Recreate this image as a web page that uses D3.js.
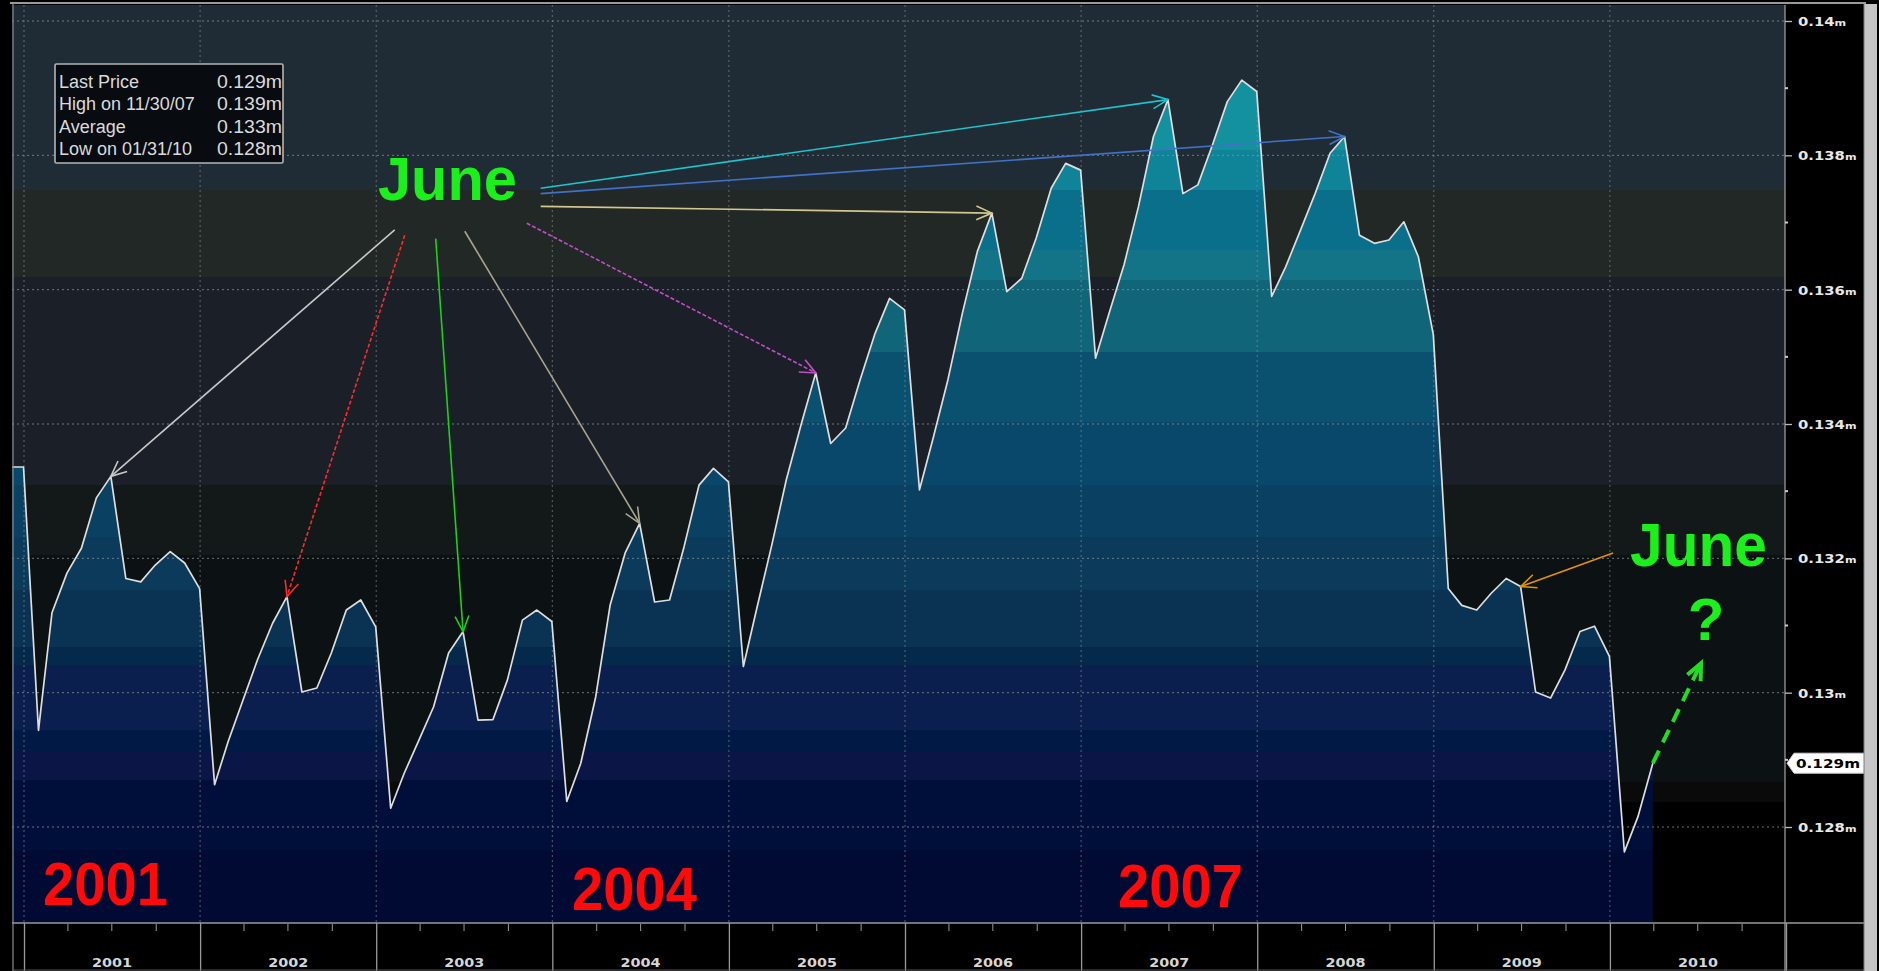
<!DOCTYPE html>
<html><head><meta charset="utf-8">
<script src="https://cdn.jsdelivr.net/npm/d3@7/dist/d3.min.js"></script>
<style>html,body{margin:0;padding:0;background:#000;overflow:hidden}svg{display:block}</style>
</head><body><svg id="c" width="1879" height="971"></svg>
<script>
// ---------- DATA (month-end prices, millions) ----------
const price2000 = [0.13336, 0.13336];                       // Nov, Dec
const price2001 = [0.12944, 0.13119, 0.13178, 0.13215, 0.13290, 0.13322, 0.13170, 0.13165, 0.13190, 0.13210, 0.13193, 0.13155];
const price2002 = [0.12863, 0.12927, 0.12989, 0.13049, 0.13103, 0.13143, 0.13001, 0.13007, 0.13059, 0.13123, 0.13138, 0.13098];
const price2003 = [0.12828, 0.12880, 0.12930, 0.12979, 0.13059, 0.13091, 0.12959, 0.12960, 0.13019, 0.13108, 0.13123, 0.13106];
const price2004 = [0.12838, 0.12895, 0.12994, 0.13131, 0.13208, 0.13252, 0.13135, 0.13138, 0.13217, 0.13309, 0.13334, 0.13314];
const price2005 = [0.13039, 0.13126, 0.13220, 0.13317, 0.13400, 0.13476, 0.13371, 0.13394, 0.13466, 0.13535, 0.13587, 0.13570];
const price2006 = [0.13302, 0.13378, 0.13466, 0.13565, 0.13657, 0.13714, 0.13597, 0.13617, 0.13677, 0.13751, 0.13788, 0.13778];
const price2007 = [0.13498, 0.13565, 0.13637, 0.13724, 0.13828, 0.13883, 0.13743, 0.13756, 0.13815, 0.13880, 0.13912, 0.13895];
const price2008 = [0.13590, 0.13634, 0.13689, 0.13743, 0.13803, 0.13828, 0.13681, 0.13669, 0.13674, 0.13701, 0.13649, 0.13533];
const price2009 = [0.13155, 0.13130, 0.13123, 0.13148, 0.13170, 0.13158, 0.13001, 0.12992, 0.13034, 0.13091, 0.13099, 0.13054];
const price2010 = [0.12763, 0.12815, 0.12895];              // Jan, Feb, Mar

const years = [2001, 2002, 2003, 2004, 2005, 2006, 2007, 2008, 2009, 2010];
const yearLabels = ["2001","2002","2003","2004","2005","2006","2007","2008","2009","2010"];
const yTicks = [0.128, 0.13, 0.132, 0.134, 0.136, 0.138, 0.14];
const yTickLabels = ["0.128", "0.13", "0.132", "0.134", "0.136", "0.138", "0.14"];
const statLabels = ["Last Price", "High on 11/30/07", "Average", "Low on 01/31/10"];
const statValues = ["0.129m", "0.139m", "0.133m", "0.128m"];
const lastPriceLabel = "0.129m";
const juneYears = [2001, 2002, 2003, 2004, 2005, 2006, 2007, 2008, 2009];
// arrow tails (decimal year, value)
const arrowTailT = [2003.105, 2003.162, 2003.338, 2003.503, 2003.855, 2003.934, 2003.934, 2003.934, 2010.018];
const arrowTailV = [0.13689, 0.13681, 0.13676, 0.13687, 0.13699, 0.13724, 0.13751, 0.13743, 0.13208];
const arrowColors = ["#c8c8c8", "#ff2a2a", "#1ad21a", "#a8a68e", "#c050c8", "#d2c78c", "#1ec3cb", "#4272c8", "#e0920c"];
const arrowDash = [null, "4,2", null, null, "4,2", null, null, null, null];
const forecastT = 2010.518, forecastV = 0.13044;

// ---------- SETUP ----------
const values = [].concat(price2000, price2001, price2002, price2003, price2004, price2005,
                         price2006, price2007, price2008, price2009, price2010);
const data = values.map((v, i) => ({date: new Date(2000, 11 + i, 0), value: v}));
const yr = t => { const y0 = Math.floor(t); const a = new Date(y0,0,1), b = new Date(y0+1,0,1);
                  return new Date(+a + (t - y0) * (b - a)); };

const P = {left: 12, right: 1785, top: 5, bottom: 923};
const x = d3.scaleTime().domain([new Date(2001,0,1), new Date(2011,0,1)]).range([24, 1786]);
const y = d3.scaleLinear().domain([0.128, 0.14]).range([827, 21]);

const svg = d3.select("#c");
svg.append("rect").attr("width",1879).attr("height",971).attr("fill","#000");
const defs = svg.append("defs");
defs.append("clipPath").attr("id","clip").append("rect")
  .attr("x",P.left).attr("y",P.top).attr("width",P.right-P.left).attr("height",P.bottom-P.top);

// background bands above the mountain
const bgBands = [[5,190,"#202c35"],[190,277,"#222826"],[277,485,"#1b1f28"],[485,555,"#131918"],
                 [555,782,"#0c1113"],[782,802,"#0a0a0a"],[802,923,"#000000"]];
const g = svg.append("g").attr("clip-path","url(#clip)");
g.selectAll("rect.bg").data(bgBands).join("rect").attr("class","bg")
  .attr("x",P.left).attr("width",P.right-P.left)
  .attr("y",d=>d[0]).attr("height",d=>d[1]-d[0]).attr("fill",d=>d[2]);

// banded gradient for the mountain fill
const fillBands = [[5,150,"#13919e"],[150,190,"#0f8397"],[190,250,"#0a6f8b"],[250,280,"#137387"],
  [280,352,"#116578"],[352,422,"#0a5170"],[422,485,"#09486a"],[485,537,"#0a4062"],[537,590,"#0b3a5a"],
  [590,647,"#0a3253"],[647,665,"#04294b"],[665,730,"#0b1f4f"],[730,752,"#001a45"],[752,780,"#0b1646"],
  [780,850,"#000f3a"],[850,923,"#000a33"]];
const grad = defs.append("linearGradient").attr("id","mfill").attr("gradientUnits","userSpaceOnUse")
  .attr("x1",0).attr("x2",0).attr("y1",P.top).attr("y2",P.bottom);
fillBands.forEach(b => {
  grad.append("stop").attr("offset",(b[0]-P.top)/(P.bottom-P.top)).attr("stop-color",b[2]);
  grad.append("stop").attr("offset",(b[1]-P.top)/(P.bottom-P.top)).attr("stop-color",b[2]);
});

const area = d3.area().x(d=>x(d.date)).y0(P.bottom).y1(d=>y(d.value));
g.append("path").datum(data).attr("d",area).attr("fill","url(#mfill)");

// gridlines
g.selectAll("line.hg").data(yTicks).join("line").attr("class","hg")
  .attr("x1",P.left).attr("x2",P.right).attr("y1",d=>y(d)).attr("y2",d=>y(d))
  .attr("stroke","#8f9696").attr("stroke-width",1).attr("stroke-dasharray","2,3").attr("opacity",0.75);
g.selectAll("line.vg").data(years).join("line").attr("class","vg")
  .attr("x1",d=>x(new Date(d,0,1))).attr("x2",d=>x(new Date(d,0,1))).attr("y1",P.top).attr("y2",P.bottom)
  .attr("stroke","#8f9696").attr("stroke-width",1).attr("stroke-dasharray","2,3").attr("opacity",0.6);

// price line
const line = d3.line().x(d=>x(d.date)).y(d=>y(d.value));
g.append("path").datum(data).attr("d",line).attr("fill","none")
  .attr("stroke","#dedede").attr("stroke-width",1.7).attr("stroke-linejoin","round");

// frame
svg.append("line").attr("x1",10).attr("x2",1866).attr("y1",3).attr("y2",3).attr("stroke","#9a9a9a").attr("stroke-width",2);
svg.append("line").attr("x1",P.left+1).attr("x2",P.left+1).attr("y1",4).attr("y2",971).attr("stroke","#8a8a8a").attr("stroke-width",1.2);

// ---------- X AXIS ----------
const xAxisG = svg.append("g").attr("transform",`translate(0,${P.bottom})`);
xAxisG.append("line").attr("x1",P.left).attr("x2",1866).attr("y1",0).attr("y2",0).attr("stroke","#9a9a9a").attr("stroke-width",1.5);
const xMajor = d3.axisBottom(x).tickValues(years.map(d=>new Date(d,0,1)).concat([new Date(2011,0,1)]))
  .tickSize(48).tickFormat("");
xAxisG.append("g").call(xMajor).call(s=>{s.select(".domain").remove();
  s.selectAll("line").attr("stroke","#9a9a9a").attr("stroke-width",1.3);});
const quarters = d3.timeMonth.range(new Date(2001,0,1), new Date(2011,0,1), 3).filter(d=>d.getMonth()!==0);
const xMinor = d3.axisBottom(x).tickValues(quarters).tickSize(7).tickFormat("");
xAxisG.append("g").call(xMinor).call(s=>{s.select(".domain").remove();
  s.selectAll("line").attr("stroke","#9a9a9a").attr("stroke-width",1).attr("transform","translate(0,1)");});
xAxisG.selectAll("text.yl").data(years).join("text").attr("class","yl")
  .attr("x",d=>(x(new Date(d,0,1))+x(new Date(d+1,0,1)))/2).attr("y",44)
  .attr("text-anchor","middle").attr("fill","#d6d6d6")
  .attr("font-family","'DejaVu Sans', 'Liberation Sans', sans-serif").attr("font-weight","bold")
  .attr("font-size",13).attr("textLength",40).attr("lengthAdjust","spacingAndGlyphs")
  .text((d,i)=>yearLabels[i]);
svg.append("line").attr("x1",P.left).attr("x2",1866).attr("y1",970).attr("y2",970).attr("stroke","#555").attr("stroke-width",1);

// ---------- Y AXIS ----------
const yAxisG = svg.append("g").attr("transform",`translate(${P.right},0)`);
yAxisG.append("line").attr("x1",0).attr("x2",0).attr("y1",P.top).attr("y2",971).attr("stroke","#9a9a9a").attr("stroke-width",1.3);
const yAxis = d3.axisRight(y).tickValues(yTicks).tickSize(7).tickPadding(6).tickFormat((d,i)=>yTickLabels[i]);
yAxisG.append("g").call(yAxis).call(s=>{
  s.select(".domain").remove();
  s.selectAll("line").attr("stroke","#bbbbbb").attr("stroke-width",1.3);
  s.selectAll("text").each(function(d,i){
    const t = d3.select(this); const lab = yTickLabels[i];
    t.text(null).attr("fill","#e8e8e8").attr("font-family","'DejaVu Sans', sans-serif")
     .attr("font-weight","bold").attr("font-size",12).attr("dy","0.38em")
     .attr("textLength", lab.length*10.3 + 7).attr("lengthAdjust","spacingAndGlyphs");
    t.append("tspan").text(lab);
    t.append("tspan").attr("font-size",9).text("m");
  });
});
const yMinor = d3.range(0.129, 0.1405, 0.002);
yAxisG.selectAll("line.ym").data(yMinor).join("line").attr("class","ym")
  .attr("x1",0).attr("x2",3).attr("y1",d=>y(d)).attr("y2",d=>y(d)).attr("stroke","#cccccc").attr("stroke-width",2);

// last price tag
const lastD = data[data.length-1];
const ly = y(lastD.value);
svg.append("path").attr("d",`M${P.right+2},${ly} L${P.right+9},${ly-10} L1865,${ly-10} L1865,${ly+10} L${P.right+9},${ly+10} Z`)
  .attr("fill","#ffffff").attr("stroke","#cfcfcf");
svg.append("text").attr("x",P.right+11).attr("y",ly+4.5).attr("fill","#000")
  .attr("font-family","'DejaVu Sans', sans-serif").attr("font-weight","bold").attr("font-size",12)
  .attr("textLength",64).attr("lengthAdjust","spacingAndGlyphs").text(lastPriceLabel);

// scrollbar on right
svg.append("rect").attr("x",1864).attr("y",4).attr("width",13).attr("height",967).attr("fill","#c6c6c6");
svg.append("line").attr("x1",1864).attr("x2",1864).attr("y1",4).attr("y2",971).attr("stroke","#7a7a7a");

// ---------- LEGEND BOX ----------
const lg = svg.append("g");
lg.append("rect").attr("x",55).attr("y",64).attr("width",228).attr("height",99)
  .attr("fill","#080c10").attr("stroke","#b4b4b4").attr("stroke-width",1.6).attr("rx",1.5);
lg.selectAll("text.sl").data(statLabels).join("text").attr("class","sl")
  .attr("x",59).attr("y",(d,i)=>88+i*22.3).attr("fill","#dadada")
  .attr("font-family","'Liberation Sans', Arial, sans-serif").attr("font-size",18).text(d=>d);
lg.selectAll("text.sv").data(statValues).join("text").attr("class","sv")
  .attr("x",217).attr("y",(d,i)=>88+i*22.3).attr("fill","#dadada")
  .attr("font-family","'Liberation Sans', Arial, sans-serif").attr("font-size",18)
  .attr("textLength",65).attr("lengthAdjust","spacingAndGlyphs").text(d=>d);

// ---------- ANNOTATIONS ----------
const ann = svg.append("g");
function arrow(x1,y1,x2,y2,color,dash,width,head){
  ann.append("line").attr("x1",x1).attr("y1",y1).attr("x2",x2).attr("y2",y2)
    .attr("stroke",color).attr("stroke-width",width).attr("stroke-dasharray",dash);
  const a = Math.atan2(y2-y1,x2-x1), L = head, s = 0.42;
  const p = [[x2 - L*Math.cos(a-s), y2 - L*Math.sin(a-s)],[x2,y2],[x2 - L*Math.cos(a+s), y2 - L*Math.sin(a+s)]];
  ann.append("path").attr("d","M"+p.map(q=>q.join(",")).join("L")).attr("fill","none")
    .attr("stroke",color).attr("stroke-width",width).attr("stroke-linejoin","miter");
}
juneYears.forEach((yy,i)=>{
  const d = data.find(e=>e.date.getFullYear()===yy && e.date.getMonth()===5);
  arrow(x(yr(arrowTailT[i])), y(arrowTailV[i]), x(d.date), y(d.value), arrowColors[i], arrowDash[i], 1.6, 17);
});
// forecast arrow
arrow(x(lastD.date), y(lastD.value), x(yr(forecastT)), y(forecastV), "#22dd22", "14,9", 4, 18);

const font = "'Liberation Sans', Arial, Helvetica, sans-serif";
ann.append("text").attr("x",378).attr("y",200).attr("fill","#1cf01c").attr("font-family",font)
  .attr("font-weight","bold").attr("font-size",62).attr("textLength",139).attr("lengthAdjust","spacingAndGlyphs").text("June");
ann.append("text").attr("x",1630).attr("y",566).attr("fill","#1cf01c").attr("font-family",font)
  .attr("font-weight","bold").attr("font-size",62).attr("textLength",137).attr("lengthAdjust","spacingAndGlyphs").text("June");
ann.append("text").attr("x",1706).attr("y",640).attr("text-anchor","middle").attr("fill","#1cf01c").attr("font-family",font)
  .attr("font-weight","bold").attr("font-size",60).text("?");

const bigYears = [["2001",43,905],["2004",572,910],["2007",1118,907]];
ann.selectAll("text.by").data(bigYears).join("text").attr("class","by")
  .attr("x",d=>d[1]).attr("y",d=>d[2]).attr("fill","#ff0a0a").attr("font-family",font)
  .attr("font-weight","bold").attr("font-size",62).attr("textLength",125).attr("lengthAdjust","spacingAndGlyphs")
  .text(d=>d[0]);
</script></body></html>
